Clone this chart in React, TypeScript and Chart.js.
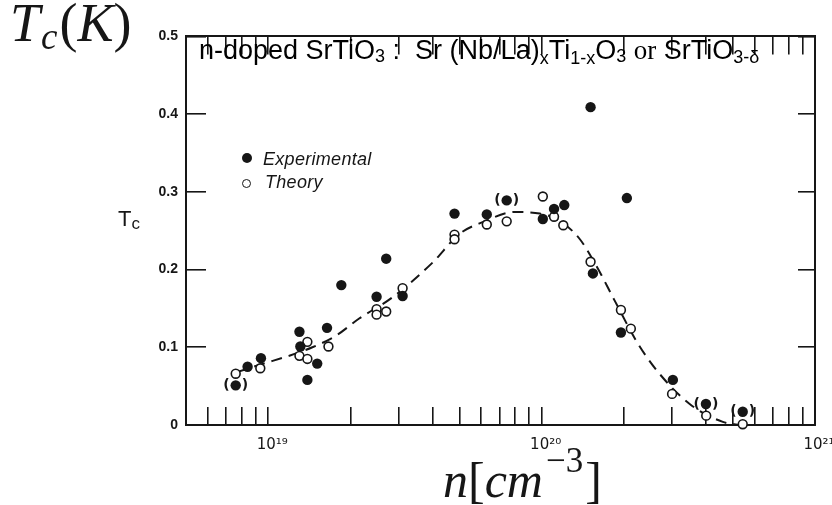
import React, { useEffect, useRef } from "react";
import { Chart, registerables } from "chart.js";

Chart.register(...registerables);

// ---- data ----
const expN = [7.6e18, 8.4e18, 9.4e18, 1.3e19, 1.31e19, 1.39e19, 1.51e19, 1.64e19, 1.85e19, 2.49e19, 2.7e19, 3.1e19, 4.8e19, 6.3e19, 7.45e19, 1.01e20, 1.11e20, 1.21e20, 1.51e20, 1.54e20, 1.95e20, 2.05e20, 3.02e20, 3.99e20, 5.44e20];
const expTc = [0.051, 0.075, 0.086, 0.12, 0.101, 0.058, 0.079, 0.125, 0.18, 0.165, 0.214, 0.166, 0.272, 0.271, 0.289, 0.265, 0.278, 0.283, 0.409, 0.195, 0.119, 0.292, 0.058, 0.027, 0.017];
const expBracketed = [true, false, false, false, false, false, false, false, false, false, false, false, false, false, true, false, false, false, false, false, false, false, false, true, true];

const thN = [7.6e18, 9.35e18, 1.3e19, 1.39e19, 1.39e19, 1.66e19, 2.49e19, 2.49e19, 2.7e19, 3.1e19, 4.8e19, 4.8e19, 6.3e19, 7.45e19, 1.01e20, 1.11e20, 1.2e20, 1.51e20, 1.95e20, 2.12e20, 3.0e20, 4.0e20, 5.44e20];
const thTc = [0.066, 0.073, 0.089, 0.107, 0.085, 0.101, 0.149, 0.142, 0.146, 0.176, 0.245, 0.239, 0.258, 0.262, 0.294, 0.268, 0.257, 0.21, 0.148, 0.124, 0.04, 0.012, 0.001];

const curveN = [7.69e18, 9.4e18, 1.19e19, 1.45e19, 1.77e19, 2.15e19, 2.84e19, 3.99e19, 5.01e19, 6.08e19, 7.96e19, 9.84e19, 1.16e20, 1.38e20, 1.59e20, 1.85e20, 2.23e20, 2.64e20, 3.48e20, 4.6e20, 5.31e20];
const curveTc = [0.068, 0.078, 0.089, 0.1, 0.115, 0.137, 0.164, 0.209, 0.246, 0.261, 0.274, 0.272, 0.263, 0.239, 0.204, 0.16, 0.107, 0.07, 0.027, 0.004, 0.0];

const X_MIN = 5e18;
const X_MAX = 1e21;
const xTickValues = [6e18, 7e18, 8e18, 9e18, 1e19, 2e19, 3e19, 4e19, 5e19, 6e19, 7e19, 8e19, 9e19, 1e20, 2e20, 3e20, 4e20, 5e20, 6e20, 7e20, 8e20, 9e20, 1e21];
const xMajorValues = [1e19, 1e20, 1e21];
const xMajorLabels = ["10¹⁹", "10²⁰", "10²¹"];

const Y_MIN = 0;
const Y_MAX = 0.5;
const yTickValues = [0, 0.1, 0.2, 0.3, 0.4, 0.5];
const yTickLabels = ["0", "0.1", "0.2", "0.3", "0.4", "0.5"];

const INK = "#161616";

function xLabel(v: number): string {
  for (let k = 0; k < xMajorValues.length; k++) {
    if (Math.abs(v / xMajorValues[k] - 1) < 1e-6) return xMajorLabels[k];
  }
  return "";
}

export default function App() {
  const ref = useRef<HTMLCanvasElement>(null);

  useEffect(() => {
    if (!ref.current) return;

    const parenPlugin = {
      id: "parens",
      afterDatasetsDraw(chart: any) {
        const meta = chart.getDatasetMeta(0);
        const ctx = chart.ctx;
        ctx.save();
        ctx.font = "bold 14px 'DejaVu Sans'";
        ctx.fillStyle = INK;
        ctx.textBaseline = "middle";
        meta.data.forEach((el: any, i: number) => {
          if (!expBracketed[i]) return;
          ctx.textAlign = "right";
          ctx.fillText("(", el.x - 6, el.y);
          ctx.textAlign = "left";
          ctx.fillText(")", el.x + 6, el.y);
        });
        ctx.restore();
      },
    };

    const gridCommon = {
      drawOnChartArea: false,
      drawTicks: true,
      lineWidth: 1.6,
      color: INK,
    };
    const borderCommon = { display: true, width: 2, color: INK };

    const chart = new Chart(ref.current, {
      type: "scatter",
      data: {
        datasets: [
          {
            label: "Experimental",
            data: expN.map((n, i) => ({ x: n, y: expTc[i] })),
            pointRadius: 5.2,
            pointBackgroundColor: INK,
            pointBorderColor: INK,
            pointBorderWidth: 0,
            clip: false,
          },
          {
            label: "Theory",
            data: thN.map((n, i) => ({ x: n, y: thTc[i] })),
            pointRadius: 4.4,
            pointBackgroundColor: "#ffffff",
            pointBorderColor: INK,
            pointBorderWidth: 1.6,
            clip: false,
          },
          {
            label: "curve",
            type: "line",
            data: curveN.map((n, i) => ({ x: n, y: curveTc[i] })),
            showLine: true,
            borderColor: INK,
            borderWidth: 2,
            borderDash: [11, 7],
            pointRadius: 0,
            cubicInterpolationMode: "monotone",
            fill: false,
          },
        ],
      } as any,
      options: {
        responsive: false,
        animation: false,
        devicePixelRatio: 1,
        layout: { padding: { left: 0, top: 13, right: 17, bottom: 0 } },
        plugins: { legend: { display: false }, tooltip: { enabled: false } },
        scales: {
          x: {
            type: "logarithmic",
            position: "bottom",
            min: X_MIN,
            max: X_MAX,
            border: borderCommon,
            grid: { ...gridCommon, tickLength: -18 },
            afterBuildTicks: (s: any) => {
              s.ticks = xTickValues.map((v) => ({ value: v }));
            },
            ticks: {
              autoSkip: false,
              maxRotation: 0,
              minRotation: 0,
              padding: 29,
              labelOffset: 4,
              color: INK,
              font: { family: "DejaVu Sans", size: 15 },
              callback: (v: any) => xLabel(Number(v)),
            },
            afterFit: (s: any) => {
              s.height = 80;
              s.paddingLeft = 0;
              s.paddingRight = 0;
            },
          },
          xTop: {
            type: "logarithmic",
            position: "top",
            min: X_MIN,
            max: X_MAX,
            border: borderCommon,
            grid: { ...gridCommon, tickLength: -18 },
            afterBuildTicks: (s: any) => {
              s.ticks = xTickValues.map((v) => ({ value: v }));
            },
            ticks: { display: false, autoSkip: false },
            afterFit: (s: any) => {
              s.height = 0;
              s.paddingLeft = 0;
              s.paddingRight = 0;
            },
          },
          y: {
            type: "linear",
            position: "left",
            min: Y_MIN,
            max: Y_MAX,
            border: borderCommon,
            grid: { ...gridCommon, tickLength: -20 },
            afterBuildTicks: (s: any) => {
              s.ticks = yTickValues.map((v) => ({ value: v }));
            },
            ticks: {
              padding: 28,
              color: INK,
              font: { family: "Liberation Sans", size: 14, weight: "bold" },
              callback: (_v: any, i: number) => yTickLabels[i],
            },
            afterFit: (s: any) => {
              s.width = 186;
            },
          },
          yRight: {
            type: "linear",
            position: "right",
            min: Y_MIN,
            max: Y_MAX,
            border: borderCommon,
            grid: { ...gridCommon, tickLength: -17 },
            afterBuildTicks: (s: any) => {
              s.ticks = yTickValues.map((v) => ({ value: v }));
            },
            ticks: { display: false },
            afterFit: (s: any) => {
              s.width = 0;
            },
          },
        },
      } as any,
      plugins: [parenPlugin],
    });

    return () => chart.destroy();
  }, []);

  const serif = "'Liberation Serif', 'Times New Roman', serif";
  const sans = "'Liberation Sans', Arial, sans-serif";
  const sub = (px: number, shift: number): React.CSSProperties => ({
    fontSize: px,
    lineHeight: 0,
    verticalAlign: shift,
  });

  return (
    <div style={{ position: "absolute", left: 0, top: 0, width: 832, height: 505, background: "#fff", overflow: "hidden" }}>
      <canvas ref={ref} width={832} height={505} style={{ display: "block", position: "absolute", left: 0, top: 0 }} />

      {/* T_c(K) */}
      <div style={{ position: "absolute", left: 10, top: -4, fontFamily: serif, fontSize: 54, lineHeight: 1, color: INK, whiteSpace: "nowrap" }}>
        <span style={{ fontStyle: "italic" }}>T</span>
        <span style={{ ...sub(37, -8), fontStyle: "italic", marginLeft: 1 }}>c</span>
        <span style={{ marginLeft: 2 }}>(</span>
        <span style={{ fontStyle: "italic" }}>K</span>
        <span>)</span>
      </div>

      {/* n[cm^-3] */}
      <div style={{ position: "absolute", left: 443, top: 455, fontFamily: serif, fontSize: 50, lineHeight: 1, color: INK, whiteSpace: "nowrap" }}>
        <span style={{ fontStyle: "italic" }}>n</span>
        <span>[</span>
        <span style={{ fontStyle: "italic" }}>cm</span>
        <span style={{ ...sub(35, 25), marginLeft: 3 }}>−3</span>
        <span style={{ marginLeft: 2 }}>]</span>
      </div>

      {/* annotation */}
      <div style={{ position: "absolute", left: 199, top: 37, fontFamily: sans, fontSize: 27, lineHeight: 1, color: "#000", whiteSpace: "nowrap" }}>
        n-doped SrTiO<span style={sub(18, -3)}>3</span> :&nbsp;&nbsp;Sr (Nb/La)<span style={sub(18, -5)}>x</span>Ti<span style={sub(18, -5)}>1-x</span>O<span style={sub(18, -3)}>3</span> <span style={{ fontFamily: serif }}>or</span> SrTiO<span style={sub(18, -4)}>3-δ</span>
      </div>

      {/* y axis label */}
      <div style={{ position: "absolute", left: 118, top: 208, fontFamily: sans, fontSize: 22, lineHeight: 1, color: INK, whiteSpace: "nowrap" }}>
        T<span style={sub(17, -3)}>c</span>
      </div>

      {/* legend */}
      <div style={{ position: "absolute", left: 242, top: 153, width: 10, height: 10, borderRadius: "50%", background: INK }} />
      <div style={{ position: "absolute", left: 263, top: 150, fontFamily: sans, fontStyle: "italic", fontSize: 18, lineHeight: 1, color: INK, letterSpacing: 0.3, whiteSpace: "nowrap" }}>
        Experimental
      </div>
      <div style={{ position: "absolute", left: 242, top: 179, width: 7, height: 7, borderRadius: "50%", border: `1.6px solid ${INK}`, background: "#fff" }} />
      <div style={{ position: "absolute", left: 265, top: 173, fontFamily: sans, fontStyle: "italic", fontSize: 18, lineHeight: 1, color: INK, letterSpacing: 0.3, whiteSpace: "nowrap" }}>
        Theory
      </div>
    </div>
  );
}
